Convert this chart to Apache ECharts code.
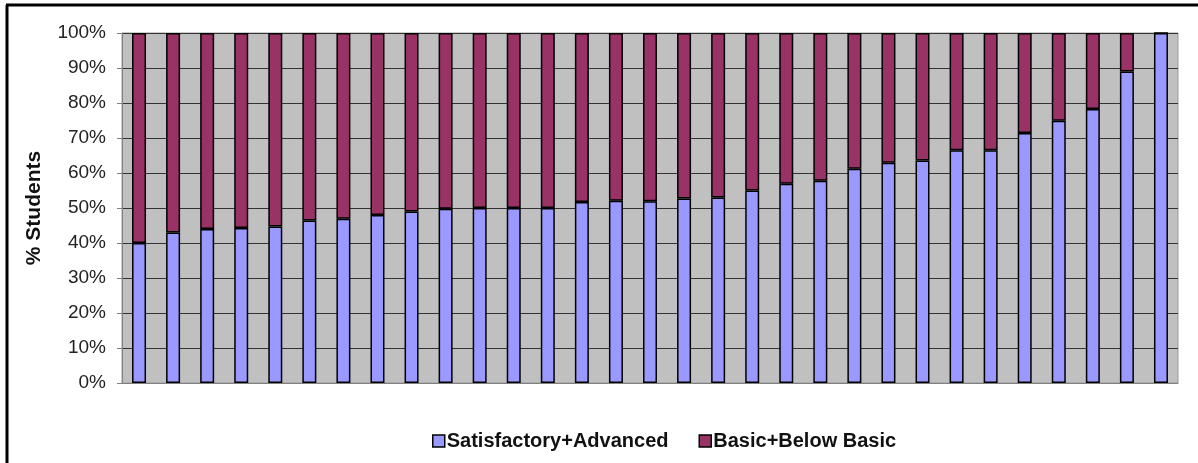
<!DOCTYPE html>
<html>
<head>
<meta charset="utf-8">
<script src="https://cdn.jsdelivr.net/npm/echarts@6/dist/echarts.min.js"></script>
<style>
  html, body { margin: 0; padding: 0; background: #fff; }
  #chart { width: 1198px; height: 463px; }
</style>
</head>
<body>
<div id="chart"></div>
<script>
// One bar per school, sorted by share of students at Satisfactory or above
const categories = Array.from({ length: 31 }, (_, i) => 'S' + (i + 1));

const satisfactoryAdvanced = [
  40, 43, 44, 44.3, 44.7, 46.4, 46.9, 48, 49, 49.8,
  50, 50, 50, 51.7, 52.1, 51.9, 52.7, 53, 55, 56.9,
  57.8, 61.2, 62.9, 63.6, 66.5, 66.5, 71.4, 74.9, 78.3, 89,
  100
];

const basicBelowBasic = [
  60, 57, 56, 55.7, 55.3, 53.6, 53.1, 52, 51, 50.2,
  50, 50, 50, 48.3, 47.9, 48.1, 47.3, 47, 45, 43.1,
  42.2, 38.8, 37.1, 36.4, 33.5, 33.5, 28.6, 25.1, 21.7, 11,
  0
];

const seriesNames = ['Satisfactory+Advanced', 'Basic+Below Basic'];
const yTickValues = [0, 10, 20, 30, 40, 50, 60, 70, 80, 90, 100];

const FONT = '"Liberation Sans", Arial, sans-serif';

const chart = echarts.init(document.getElementById('chart'), null, { renderer: 'canvas' });

const barStyle = (color) => ({
  color: color,
  borderColor: '#000',
  borderWidth: 1.5
});

chart.setOption({
  animation: false,
  backgroundColor: '#ffffff',
  grid: {
    left: 122,
    right: 20,
    top: 33,
    bottom: 80,
    show: true,
    backgroundColor: '#c0c0c0',
    borderColor: '#9a9a9a',
    borderWidth: 1
  },
  graphic: [
    // outer frame of the chart area
    { type: 'line', shape: { x1: 6, y1: 5, x2: 1198, y2: 5 }, style: { stroke: '#000', lineWidth: 3 } },
    { type: 'line', shape: { x1: 7, y1: 5, x2: 7, y2: 463 }, style: { stroke: '#000', lineWidth: 3 } }
  ],
  legend: {
    data: seriesNames,
    left: 427,
    top: 426,
    itemWidth: 12,
    itemHeight: 12,
    itemGap: 30,
    icon: 'rect',
    itemStyle: { borderColor: '#000', borderWidth: 1.5 },
    textStyle: {
      fontFamily: FONT,
      fontSize: 20,
      fontWeight: 'bold',
      color: '#111',
      padding: [0, 0, 0, -3]
    }
  },
  xAxis: {
    type: 'category',
    data: categories,
    boundaryGap: true,
    axisLine: { show: true, lineStyle: { color: '#808080', width: 1 } },
    axisTick: { show: false },
    axisLabel: { show: false },
    splitLine: { show: false }
  },
  yAxis: {
    type: 'value',
    min: 0,
    max: 100,
    interval: 10,
    name: '% Students',
    nameLocation: 'middle',
    nameGap: 77,
    nameRotate: 90,
    nameTextStyle: {
      fontFamily: FONT,
      fontSize: 21,
      fontWeight: 'bold',
      color: '#111'
    },
    axisLine: { show: true, lineStyle: { color: '#808080', width: 1 } },
    axisTick: { show: true, length: 5, lineStyle: { color: '#808080' } },
    axisLabel: {
      margin: 16,
      fontFamily: FONT,
      fontSize: 19,
      color: '#222',
      formatter: (v) => (yTickValues.includes(v) ? v + '%' : '')
    },
    splitLine: { show: true, lineStyle: { color: '#333', width: 1 } }
  },
  series: [
    {
      name: seriesNames[0],
      type: 'bar',
      stack: 'share',
      barWidth: 14,
      data: satisfactoryAdvanced,
      itemStyle: barStyle('#9999ff')
    },
    {
      name: seriesNames[1],
      type: 'bar',
      stack: 'share',
      barWidth: 14,
      data: basicBelowBasic,
      itemStyle: barStyle('#993366')
    }
  ]
});
</script>
</body>
</html>
